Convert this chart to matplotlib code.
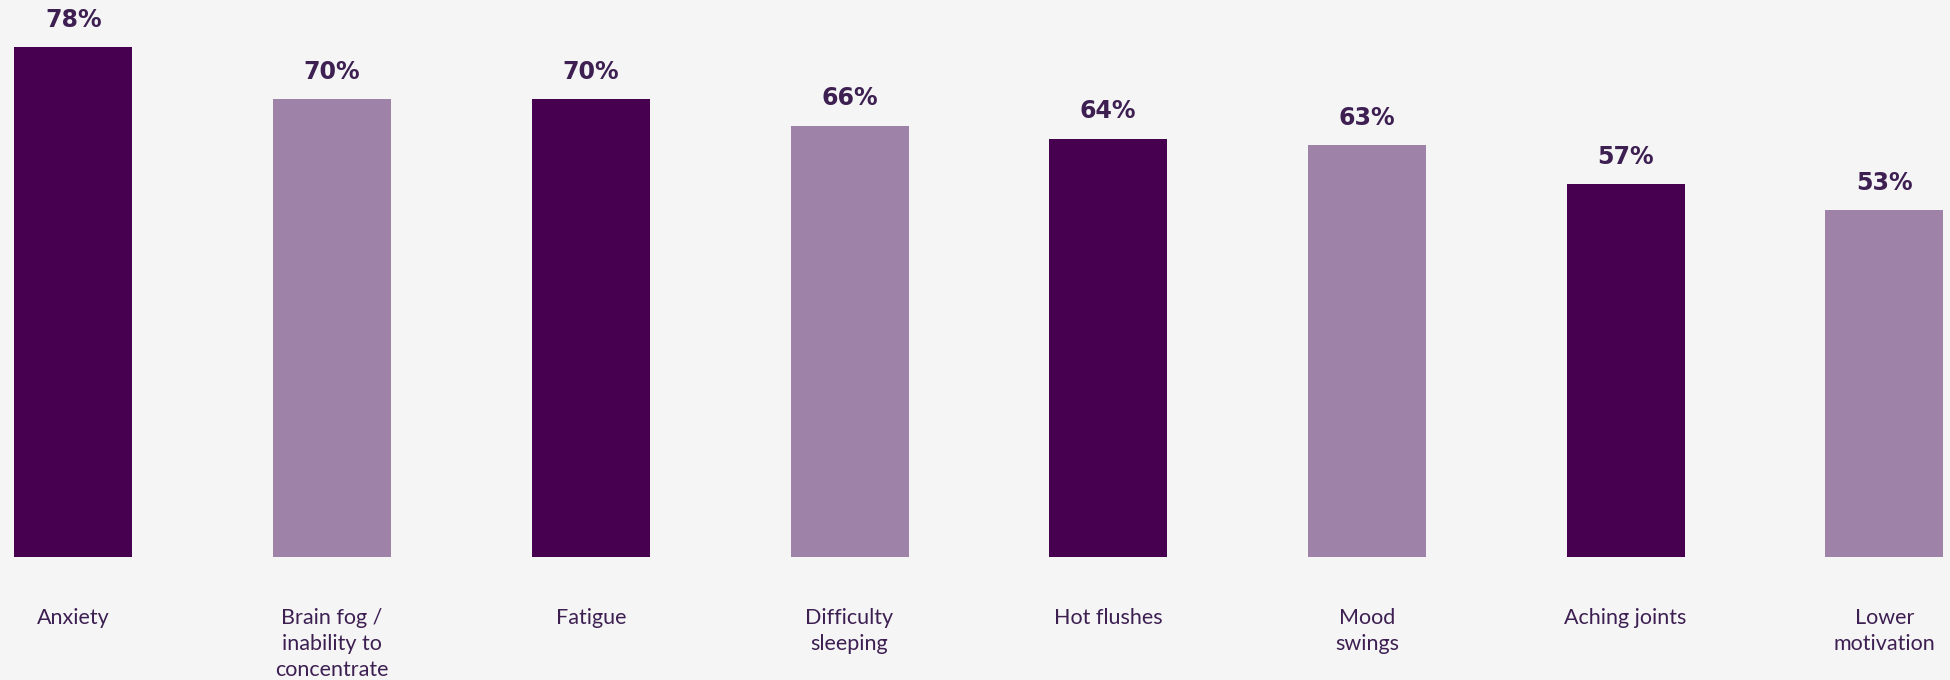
import matplotlib.pyplot as plt

categories = ['Anxiety', 'Brain fog /\ninability to\nconcentrate', 'Fatigue',
              'Difficulty\nsleeping', 'Hot flushes', 'Mood\nswings',
              'Aching joints', 'Lower\nmotivation']
values = [78, 70, 70, 66, 64, 63, 57, 53]

dark = '#470050'
light = '#9e82a7'
text_color = '#3d1f52'
bg = '#f5f5f5'

fig = plt.figure(figsize=(19.5, 6.8), dpi=100, facecolor=bg)
ax = fig.add_axes([0, 0.181, 1, 0.819], facecolor=bg)

x = list(range(len(values)))
colors = [dark if i % 2 == 0 else light for i in x]
ax.bar(x, values, width=0.456, color=colors)

for xi, v in zip(x, values):
    ax.annotate(f'{v}%', (xi, v), xytext=(0, 11), textcoords='offset points',
                ha='center', va='bottom', fontsize=17, fontweight='bold',
                color=text_color, family='DejaVu Sans')

ax.set_xlim(-0.284, 7.254)
ax.set_ylim(0, 85.2)
ax.set_xticks(x)
ax.set_xticklabels(categories, fontsize=15.5, color=text_color, family='Lato',
                   linespacing=1.38, va='top')
ax.tick_params(axis='x', length=0, pad=37)
ax.set_yticks([])
for s in ax.spines.values():
    s.set_visible(False)

fig.savefig('out.png', dpi=100, facecolor=bg)
